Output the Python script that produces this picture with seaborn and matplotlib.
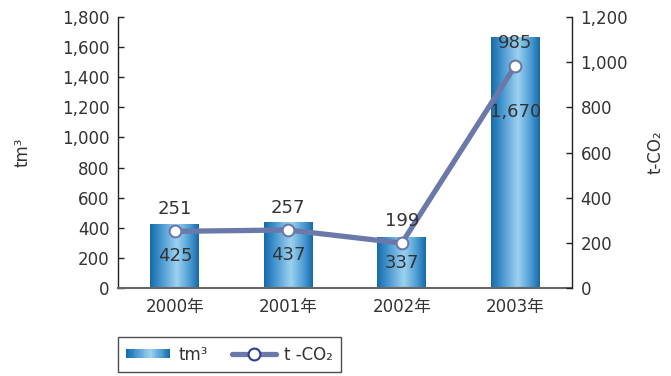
import numpy as np
import pandas as pd
import matplotlib
matplotlib.use("Agg")
import matplotlib.pyplot as plt
import seaborn as sns
from matplotlib.colors import LinearSegmentedColormap
from matplotlib.patches import Rectangle
from matplotlib.lines import Line2D
from matplotlib.legend_handler import HandlerBase
from matplotlib.ticker import FuncFormatter, MultipleLocator

# --- data ---
years = ["2000年", "2001年", "2002年", "2003年"]
volume_tm3 = [425, 437, 337, 1670]
co2_t = [251, 257, 199, 985]
volume_label = "tm³"
co2_label = "t-CO₂"

sns.set_theme(style="white")
plt.rcParams["font.family"] = ["DejaVu Sans", "Noto Sans CJK JP"]
text_color = "#333333"
line_color = "#6b78aa"

bar_cmap = LinearSegmentedColormap.from_list(
    "cyl", [(0.0, "#176aa8"), (0.18, "#3b8dca"), (0.55, "#9dd2f0"),
            (0.82, "#4a9bd3"), (1.0, "#1668a7")])

fig = plt.figure(figsize=(6.71, 3.76), dpi=100)
ax = fig.add_axes([0.176, 0.234, 0.6766, 0.7207])
ax2 = ax.twinx()

df = pd.DataFrame({"year": years, "vol": volume_tm3, "co2": co2_t})

sns.barplot(data=df, x="year", y="vol", ax=ax, width=0.43, color="#4a9ad2",
            edgecolor="none", saturation=1)

# cylinder-like horizontal gradient fill for each bar
grad = np.linspace(0, 1, 256).reshape(1, -1)
for p in list(ax.patches):
    x0, y0 = p.get_x(), p.get_y()
    w, h = p.get_width(), p.get_height()
    im = ax.imshow(grad, cmap=bar_cmap, extent=(x0, x0 + w, y0, y0 + h),
                   aspect="auto", zorder=2, interpolation="bicubic")
    im.set_clip_path(p)
    p.set_facecolor("none")

ax.set_xlim(-0.5, 3.5)
ax.set_ylim(0, 1800)
ax.yaxis.set_major_locator(MultipleLocator(200))
ax.yaxis.set_major_formatter(FuncFormatter(lambda v, _: f"{int(v):,}"))

sns.pointplot(data=df, x="year", y="co2", ax=ax2, color=line_color,
              markers="o", linestyles="-")
for ln in ax2.lines:
    ln.set_linewidth(3.8)
    ln.set_markersize(8.5)
    ln.set_markerfacecolor("white")
    ln.set_markeredgecolor(line_color)
    ln.set_markeredgewidth(1.5)
    ln.set_zorder(3)
ax2.set_xlim(-0.5, 3.5)
ax2.set_ylim(0, 1200)
ax2.yaxis.set_major_locator(MultipleLocator(200))
ax2.yaxis.set_major_formatter(FuncFormatter(lambda v, _: f"{int(v):,}"))

# value labels
for i, v in enumerate(volume_tm3):
    ypos = v * 0.7 if v > 1000 else v / 2
    ax.text(i, ypos, f"{v:,}", ha="center", va="center", fontsize=13,
            color=text_color, zorder=5)
for i, v in enumerate(co2_t):
    ax2.annotate(f"{v:,}", (i, v), xytext=(0, 16), textcoords="offset points",
                 ha="center", va="center", fontsize=13, color=text_color,
                 zorder=6)

# axes styling
for a in (ax, ax2):
    a.set_xlabel("")
    a.grid(False)
    a.spines["top"].set_visible(False)
    for s in ("left", "right"):
        a.spines[s].set_color("#222222")
        a.spines[s].set_linewidth(1.0)
    a.spines["bottom"].set_color("#666666")
    a.spines["bottom"].set_linewidth(1.5)
ax.spines["right"].set_visible(False)
ax2.spines["left"].set_visible(False)
ax2.spines["bottom"].set_visible(False)

ax.tick_params(axis="y", direction="in", length=4, width=1, color="#222222",
               labelsize=12, labelcolor=text_color, pad=6, left=True)
ax2.tick_params(axis="y", direction="in", length=4, width=1, color="#222222",
                labelsize=12, labelcolor=text_color, pad=6, right=True)
ax.tick_params(axis="x", length=0, labelsize=12, labelcolor=text_color, pad=7)

ax.set_ylabel(volume_label, fontsize=12, color=text_color, labelpad=22)
ax2.set_ylabel(co2_label, fontsize=12, color=text_color, labelpad=13)


class GradientHandler(HandlerBase):
    def create_artists(self, legend, orig_handle, xdescent, ydescent, width,
                       height, fontsize, trans):
        n = 24
        h = height * 0.75
        y = -ydescent + (height - h) / 2
        arts = []
        for k in range(n):
            arts.append(Rectangle((-xdescent + k * width / n, y), width / n + 0.3,
                                  h, facecolor=bar_cmap((k + 0.5) / n),
                                  edgecolor="none", transform=trans))
        return arts


bar_handle = Rectangle((0, 0), 1, 1)
line_handle = Line2D([], [], color=line_color, lw=3.8, marker="o",
                     markersize=8.5, markerfacecolor="white",
                     markeredgecolor="#2f3d8f", markeredgewidth=1.5)
leg = fig.legend([bar_handle, line_handle], ["tm³", "t -CO₂"],
                 handler_map={Rectangle: GradientHandler()},
                 loc="lower left", bbox_to_anchor=(0.176, 0.011), ncol=2,
                 borderaxespad=0.0,
                 frameon=True, fancybox=False, fontsize=12, handlelength=2.6,
                 columnspacing=1.5, borderpad=0.5, handletextpad=0.5)
leg.get_frame().set_edgecolor("#222222")
leg.get_frame().set_linewidth(1.0)
for t in leg.get_texts():
    t.set_color(text_color)

fig.savefig("out.png", dpi=100)
